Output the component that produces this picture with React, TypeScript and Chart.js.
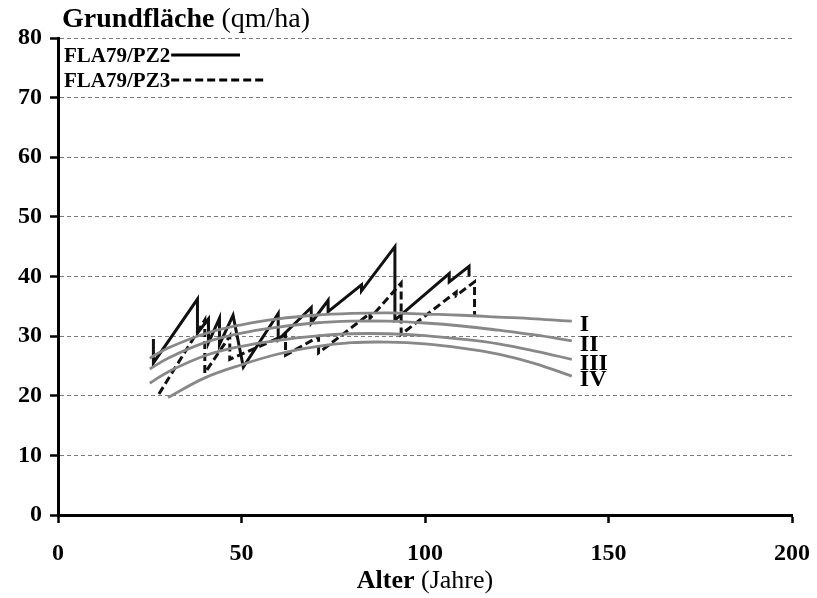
import React, { useEffect, useRef } from "react";
import { Chart, registerables } from "chart.js";

Chart.register(...registerables);

// PZ2 (solid) – age / basal area
const pz2Age = [26, 26, 38, 38, 41, 41, 44, 44, 47.7, 50.5, 60, 60, 69, 69, 73.6, 73.6, 82.7, 82.7, 91.8, 91.8, 106.6, 106.6, 112, 112];
const pz2Val = [29.5, 25.5, 36.2, 30.5, 32.9, 28.9, 33.0, 28.6, 33.5, 24.8, 33.8, 29.4, 34.8, 32.2, 36.0, 34.1, 38.6, 37.6, 45.0, 32.7, 40.5, 39.1, 41.7, 40.0];

// PZ3 (dashed)
const pz3Age = [27.5, 40, 40, 46.8, 46.8, 62, 62, 71, 71, 85, 85, 93.5, 93.5, 108.5, 108.5, 113.5, 113.5];
const pz3Val = [20.3, 32.7, 23.8, 30.0, 26.1, 30.2, 26.8, 29.9, 27.2, 33.8, 33.0, 38.9, 30.3, 37.4, 36.8, 39.1, 33.3];

// Yield-class curves I–IV
const classAge = [25, 30, 40, 50, 60, 70, 80, 90, 100, 110, 120, 130, 140];
const classI = [26.3, 28.0, 30.4, 31.9, 32.9, 33.5, 33.8, 33.9, 33.7, 33.5, 33.2, 32.9, 32.5];
const classII = [24.5, 26.3, 28.9, 30.5, 31.5, 32.2, 32.5, 32.5, 32.2, 31.7, 31.0, 30.2, 29.2];
const classIII = [22.1, 24.0, 26.7, 28.3, 29.3, 30.0, 30.4, 30.4, 30.1, 29.5, 28.7, 27.5, 26.1];
const classIVAge = [30, 40, 50, 60, 70, 80, 90, 100, 110, 120, 130, 140];
const classIV = [19.7, 23.0, 25.2, 27.0, 28.2, 28.9, 29.0, 28.7, 28.0, 27.0, 25.4, 23.3];
const classLabels = ["I", "II", "III", "IV"];

const seriesNames = ["FLA79/PZ2", "FLA79/PZ3"];
const xTicks = [0, 50, 100, 150, 200];
const yTicks = [0, 10, 20, 30, 40, 50, 60, 70, 80];

const SERIF = "'Liberation Serif', 'Times New Roman', serif";

function pts(xs: number[], ys: number[]) {
  return xs.map((x, i) => ({ x, y: ys[i] }));
}

export default function App() {
  const ref = useRef<HTMLCanvasElement | null>(null);

  useEffect(() => {
    const canvas = ref.current;
    if (!canvas) return;
    const gray = "#888888";

    const textPlugin = {
      id: "texts",
      afterDraw(chart: any) {
        const ctx = chart.ctx;
        const xs = chart.scales.x;
        const ys = chart.scales.y;
        ctx.save();
        ctx.fillStyle = "#000";
        ctx.textBaseline = "alphabetic";
        // y title
        ctx.textAlign = "left";
        ctx.font = `bold 28px ${SERIF}`;
        const t1 = "Grundfläche";
        ctx.fillText(t1, 62, 27);
        const w1 = ctx.measureText(t1).width;
        ctx.font = `28px ${SERIF}`;
        ctx.fillText(" (qm/ha)", 62 + w1, 27);

        // legend
        ctx.font = `bold 21px ${SERIF}`;
        ctx.fillText(seriesNames[0], 64, 62);
        ctx.fillText(seriesNames[1], 64, 87);
        const lw0 = ctx.measureText(seriesNames[0]).width;
        const lw1 = ctx.measureText(seriesNames[1]).width;
        ctx.strokeStyle = "#000";
        ctx.lineWidth = 3;
        ctx.beginPath();
        ctx.moveTo(64 + lw0 + 1, 55);
        ctx.lineTo(240, 55);
        ctx.stroke();
        ctx.setLineDash([8, 4]);
        ctx.beginPath();
        ctx.moveTo(64 + lw1 + 1, 80);
        ctx.lineTo(266, 80);
        ctx.stroke();
        ctx.setLineDash([]);

        // x title
        ctx.font = `bold 26px ${SERIF}`;
        const a1 = "Alter";
        const a2 = " (Jahre)";
        const aw1 = ctx.measureText(a1).width;
        ctx.font = `26px ${SERIF}`;
        const aw2 = ctx.measureText(a2).width;
        const cx = (xs.left + xs.right) / 2;
        const sx = cx - (aw1 + aw2) / 2;
        ctx.font = `bold 26px ${SERIF}`;
        ctx.fillText(a1, sx, 588);
        ctx.font = `26px ${SERIF}`;
        ctx.fillText(a2, sx + aw1, 588);

        // class labels
        ctx.font = `bold 24px ${SERIF}`;
        ctx.textBaseline = "middle";
        const ends = [classI, classII, classIII, classIV].map((a) => a[a.length - 1]);
        const lx = xs.getPixelForValue(classAge[classAge.length - 1]) + 8;
        classLabels.forEach((lab, i) => {
          ctx.fillText(lab, lx, ys.getPixelForValue(ends[i]) + 4);
        });
        ctx.restore();
      },
    };

    const chart = new Chart(canvas, {
      type: "scatter",
      data: {
        datasets: [
          { label: "I", data: pts(classAge, classI), borderColor: gray, borderWidth: 2.8 },
          { label: "II", data: pts(classAge, classII), borderColor: gray, borderWidth: 2.8 },
          { label: "III", data: pts(classAge, classIII), borderColor: gray, borderWidth: 2.8 },
          { label: "IV", data: pts(classIVAge, classIV), borderColor: gray, borderWidth: 2.8 },
          { label: seriesNames[0], data: pts(pz2Age, pz2Val), borderColor: "#111", borderWidth: 3 },
          { label: seriesNames[1], data: pts(pz3Age, pz3Val), borderColor: "#111", borderWidth: 3, borderDash: [8, 4] },
        ].map((d: any) => ({ ...d, showLine: true, pointRadius: 0, tension: d.label.length <= 3 ? 0.4 : 0, fill: false })),
      },
      plugins: [textPlugin],
      options: {
        animation: false,
        responsive: false,
        devicePixelRatio: 1,
        layout: { padding: { left: 0, top: 38, right: 25, bottom: 0 } },
        plugins: { legend: { display: false }, tooltip: { enabled: false } },
        scales: {
          x: {
            type: "linear",
            min: 0,
            max: 200,
            afterBuildTicks: (s: any) => {
              s.ticks = xTicks.map((v) => ({ value: v }));
            },
            afterFit: (s: any) => {
              s.height = 83;
              s.paddingLeft = 0;
              s.paddingRight = 0;
            },
            ticks: {
              color: "#000",
              font: { family: SERIF, size: 24, weight: "bold" },
              padding: 16,
              maxRotation: 0,
            },
            grid: { drawOnChartArea: false, drawTicks: true, tickLength: 8, tickColor: "#000", tickWidth: 2.5 },
            border: { display: true, color: "#000", width: 3 },
          },
          y: {
            type: "linear",
            min: 0,
            max: 80,
            afterBuildTicks: (s: any) => {
              s.ticks = yTicks.map((v) => ({ value: v }));
            },
            afterFit: (s: any) => {
              s.width = 58;
              s.paddingTop = 0;
              s.paddingBottom = 0;
            },
            ticks: {
              color: "#000",
              font: { family: SERIF, size: 24, weight: "bold" },
              padding: 8,
            },
            grid: { color: "#7a7a7a", lineWidth: 1, drawTicks: true, tickLength: 8, tickColor: "#000", tickWidth: 2.5 },
            border: { display: true, color: "#000", width: 3, dash: [4, 3] },
          },
        },
      } as any,
    });
    return () => chart.destroy();
  }, []);

  return (
    <div style={{ position: "absolute", left: 0, top: 0, width: 817, height: 598, background: "#fff" }}>
      <canvas ref={ref} width={817} height={598} />
    </div>
  );
}
